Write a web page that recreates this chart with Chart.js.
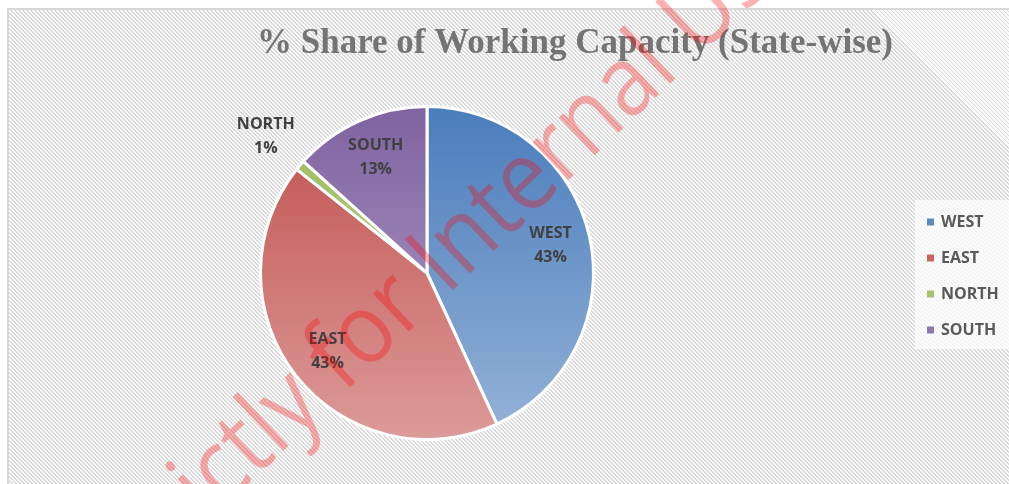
<!DOCTYPE html>
<html>
<head>
<meta charset="utf-8">
<script src="https://cdn.jsdelivr.net/npm/chart.js@4.4.0/dist/chart.umd.min.js"></script>
<style>
    html, body { margin: 0; padding: 0; background: #ffffff; }
    #wrap { position: relative; width: 1009px; height: 484px; overflow: hidden; }
    /* hatched chart-area frame behind the canvas */
    #frame {
        position: absolute; left: 7px; top: 8px; right: 0; bottom: 0;
        border-left: 2px solid #d9d9d9; border-top: 2px solid #d9d9d9;
        background: repeating-linear-gradient(45deg, #fbfbfb 0px, #fbfbfb 1.6px, #dadada 1.6px, #dadada 2.83px);
    }
    #chart { position: absolute; left: 0; top: 0; }
</style>
</head>
<body>
<div id="wrap">
    <div id="frame"></div>
    <canvas id="chart" width="1009" height="484"></canvas>
</div>
<script>
// Chart data
const chartTitle = '% Share of Working Capacity (State-wise)';
const regions = ['WEST', 'EAST', 'NORTH', 'SOUTH'];
const sharePct = [43.1, 42.6, 1.0, 13.3];
const watermarkText = 'Strictly for Internal Use';

// Palette (top -> bottom of each slice gradient)
const topColors = ['#4a7dbc', '#c0504d', '#9bbb59', '#7f62a1'];
const bottomColors = ['#95b3d7', '#dc9b99', '#c3d69b', '#b4a5c9'];
const legendColors = ['#5b8ac4', '#c9625f', '#a6c36c', '#8f76ae'];

// Vertical gradient per slice, spanning the pie area
function sliceFill(context) {
    const chart = context.chart;
    const area = chart.chartArea;
    const i = context.dataIndex;
    if (!area) return topColors[i];
    const g = chart.ctx.createLinearGradient(0, area.top, 0, area.bottom);
    g.addColorStop(0, topColors[i]);
    g.addColorStop(1, bottomColors[i]);
    return g;
}

// Title (drawn by hand so it can sit off-centre like the original)
const titlePlugin = {
    id: 'sheetTitle',
    beforeDatasetsDraw(chart) {
        const ctx = chart.ctx;
        ctx.save();
        ctx.font = 'bold 36px "Liberation Serif"';
        ctx.fillStyle = '#747474';
        ctx.textBaseline = 'alphabetic';
        const w = ctx.measureText(chartTitle).width;
        const target = 636;
        ctx.translate(257, 53);
        ctx.scale(target / w, 1);
        ctx.fillText(chartTitle, 0, 0);
        ctx.restore();
    }
};

// Category + percentage labels on the slices
const sliceLabels = {
    id: 'sliceLabels',
    afterDatasetsDraw(chart) {
        const ctx = chart.ctx;
        const meta = chart.getDatasetMeta(0);
        const total = sharePct.reduce((a, b) => a + b, 0);
        ctx.save();
        ctx.font = 'bold 16px "Open Sans"';
        ctx.fillStyle = '#404040';
        ctx.textAlign = 'center';
        ctx.textBaseline = 'middle';
        meta.data.forEach((arc, i) => {
            const p = arc.getProps(['x', 'y', 'startAngle', 'endAngle', 'outerRadius'], true);
            const mid = (p.startAngle + p.endAngle) / 2;
            const pct = sharePct[i] / total * 100;
            const f = pct < 5 ? 1.27 : 0.76;
            const cx = p.x + Math.cos(mid) * p.outerRadius * f;
            const cy = p.y + Math.sin(mid) * p.outerRadius * f;
            ctx.fillText(regions[i], cx, cy - 12);
            ctx.fillText(Math.round(pct) + '%', cx, cy + 12);
        });
        ctx.restore();
    }
};

// Legend box on the right
const sideLegend = {
    id: 'sideLegend',
    afterDatasetsDraw(chart) {
        const ctx = chart.ctx;
        ctx.save();
        ctx.fillStyle = 'rgba(255,255,255,0.7)';
        ctx.fillRect(915, 200, 94, 149);
        ctx.font = 'bold 16px "Open Sans"';
        ctx.textBaseline = 'middle';
        regions.forEach((name, i) => {
            const y = 222 + i * 36;
            ctx.fillStyle = legendColors[i];
            ctx.fillRect(927, y - 3.5, 7, 7);
            ctx.fillStyle = '#595959';
            ctx.fillText(name, 941, y);
        });
        ctx.restore();
    }
};

// Red diagonal watermark over everything
const watermark = {
    id: 'watermark',
    afterDraw(chart) {
        const ctx = chart.ctx;
        ctx.save();
        ctx.font = '100px "Open Sans"';
        const wOf = s => ctx.measureText(s).width;
        let oC = wOf('Strictly f') + wOf('o') / 2;
        let aC = wOf('Strictly for Intern') + wOf('a') / 2;
        const size = 100 * 362 / (aC - oC);
        const tall = 1.1; // narrower, taller glyphs like the original face
        ctx.font = (size * tall) + 'px "Open Sans"';
        oC = wOf('Strictly f') + wOf('o') / 2;
        ctx.translate(366, 336);
        ctx.rotate(-43.5 * Math.PI / 180);
        ctx.scale(1 / tall, 1);
        ctx.fillStyle = 'rgba(255,0,0,0.3)';
        ctx.textBaseline = 'alphabetic';
        ctx.fillText(watermarkText, -oC, size * tall * 0.27);
        ctx.restore();
    }
};

const chartConfig = {
    type: 'pie',
    data: {
        labels: regions,
        datasets: [{
            data: sharePct,
            backgroundColor: sliceFill,
            borderColor: '#ffffff',
            borderWidth: 3
        }]
    },
    options: {
        responsive: false,
        animation: false,
        layout: {
            padding: { left: 259, right: 414, top: 105, bottom: 43 }
        },
        plugins: {
            legend: { display: false },
            title: { display: false },
            tooltip: { enabled: false }
        }
    },
    plugins: [titlePlugin, sliceLabels, sideLegend, watermark]
};

const chart = new Chart(document.getElementById('chart').getContext('2d'), chartConfig);
</script>
</body>
</html>
